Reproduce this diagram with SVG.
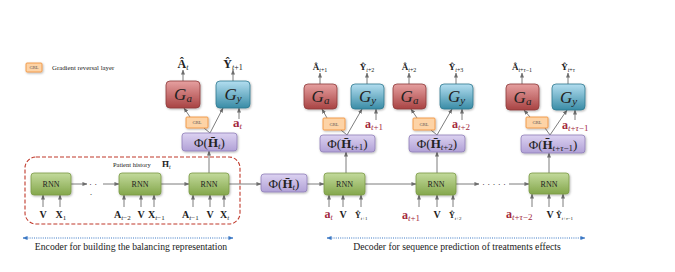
<svg xmlns="http://www.w3.org/2000/svg" width="675" height="272" viewBox="0 0 675 272">
<defs>
<linearGradient id="gG" x1="0" y1="0" x2="0" y2="1"><stop offset="0" stop-color="#c3da9c"/><stop offset="1" stop-color="#84a74c"/></linearGradient>
<linearGradient id="gR" x1="0" y1="0" x2="0" y2="1"><stop offset="0" stop-color="#e6a0a0"/><stop offset="1" stop-color="#a84343"/></linearGradient>
<linearGradient id="gB" x1="0" y1="0" x2="0" y2="1"><stop offset="0" stop-color="#b3def0"/><stop offset="1" stop-color="#3a8ca6"/></linearGradient>
<linearGradient id="gP" x1="0" y1="0" x2="0" y2="1"><stop offset="0" stop-color="#dcd2f1"/><stop offset="1" stop-color="#b1a1d6"/></linearGradient>
<filter id="sh" x="-20%" y="-20%" width="150%" height="160%"><feDropShadow dx="0.8" dy="1" stdDeviation="0.8" flood-color="#000" flood-opacity="0.3"/></filter>
<marker id="ah" viewBox="0 0 6 6" refX="5.5" refY="3" markerWidth="5" markerHeight="5" markerUnits="userSpaceOnUse" orient="auto"><path d="M0,0.6 L6,3 L0,5.4 z" fill="#6e6e6e"/></marker>
<marker id="bh" viewBox="0 0 6 6" refX="5.5" refY="3" markerWidth="5" markerHeight="5" markerUnits="userSpaceOnUse" orient="auto-start-reverse"><path d="M0,0.6 L6,3 L0,5.4 z" fill="#3b78c4"/></marker>
</defs>
<style>
text{font-family:"Liberation Serif","DejaVu Serif",serif;fill:#222}
.rnn{fill:url(#gG);stroke:#7b9b45;stroke-width:0.8;filter:url(#sh)}
.ga{fill:url(#gR);stroke:#8e3b3b;stroke-width:0.8;filter:url(#sh)}
.gy{fill:url(#gB);stroke:#2f7a90;stroke-width:0.8;filter:url(#sh)}
.phi{fill:url(#gP);stroke:#8f7fb8;stroke-width:0.8;filter:url(#sh)}
.grl{fill:#fdd3a6;stroke:#f09440;stroke-width:0.9;filter:url(#sh)}
.c{stroke:#6e6e6e;stroke-width:0.9;fill:none}
.ca{stroke:#6e6e6e;stroke-width:0.9;fill:none;marker-end:url(#ah)}
.blue{stroke:#3b78c4;stroke-width:1;stroke-dasharray:1 1.2;fill:none;marker-start:url(#bh);marker-end:url(#bh)}
.rl{font-size:8px}
.gt{font-size:17px;font-style:italic}
.gs{font-size:11px;font-style:italic}
.grt{font-size:4.6px;fill:#555}
.b{font-weight:bold}
.i{font-style:italic}
.red{fill:#a3293d}
.pt{font-size:13px}
.lab{font-size:10px}
</style>

<!-- legend -->
<g id="legend">
<rect class="grl" x="26" y="63" width="16" height="9" rx="1"/>
<text class="grt" x="34" y="69.3" text-anchor="middle">GRL</text>
<text x="52" y="70" font-size="6.8">Gradient reversal layer</text>
</g>

<!-- encoder box -->
<g id="encoder">
<rect x="25" y="157" width="215" height="67" rx="11" fill="none" stroke="#c0392b" stroke-width="1.1" stroke-dasharray="4 2"/>
<text x="113" y="167" font-size="6.5">Patient history</text>
<text x="162" y="167" font-size="9"><tspan class="b">H̄</tspan><tspan font-size="6" class="i" dy="1.5">t</tspan></text>
</g>

<!-- connectors -->
<g id="connectors">
<line class="ca" x1="71" y1="184" x2="87" y2="184"/>
<line class="ca" x1="103" y1="184" x2="119" y2="184"/>
<line class="ca" x1="161" y1="184" x2="189" y2="184"/>
<line class="ca" x1="229" y1="184" x2="261" y2="184"/>
<line class="ca" x1="307" y1="184" x2="324" y2="184"/>
<line class="ca" x1="365" y1="184" x2="416" y2="184"/>
<line class="ca" x1="456" y1="184" x2="479" y2="184"/>
<line class="ca" x1="509" y1="184" x2="529" y2="184"/>
<!-- inputs -->
<line class="ca" x1="43" y1="207" x2="43" y2="195"/>
<line class="ca" x1="60" y1="207" x2="60" y2="195"/>
<line class="ca" x1="124" y1="207" x2="124" y2="195"/>
<line class="ca" x1="141" y1="207" x2="141" y2="195"/>
<line class="ca" x1="154" y1="207" x2="154" y2="195"/>
<line class="ca" x1="193" y1="207" x2="193" y2="195"/>
<line class="ca" x1="210" y1="207" x2="210" y2="195"/>
<line class="ca" x1="224" y1="207" x2="224" y2="195"/>
<line class="ca" x1="329" y1="207" x2="329" y2="195"/>
<line class="ca" x1="343" y1="207" x2="343" y2="195"/>
<line class="ca" x1="361" y1="207" x2="361" y2="195"/>
<line class="ca" x1="419" y1="207" x2="419" y2="195"/>
<line class="ca" x1="437" y1="207" x2="437" y2="195"/>
<line class="ca" x1="453" y1="207" x2="453" y2="195"/>
<line class="ca" x1="532" y1="207" x2="532" y2="194"/>
<line class="ca" x1="549" y1="207" x2="549" y2="194"/>
<line class="ca" x1="563" y1="207" x2="563" y2="194"/>
<!-- RNN to Phi -->
<line class="ca" x1="209" y1="173" x2="209" y2="151"/>
<line class="ca" x1="346" y1="173" x2="346" y2="152"/>
<line class="ca" x1="437" y1="173" x2="437" y2="152"/>
<line class="ca" x1="549" y1="173" x2="549" y2="153"/>
<!-- group 0 heads -->
<line class="c" x1="210" y1="133" x2="204" y2="128"/>
<line class="ca" x1="190" y1="117" x2="184" y2="108"/>
<line class="ca" x1="210" y1="133" x2="223" y2="108"/>
<line class="ca" x1="239" y1="119" x2="239" y2="108"/>
<line class="ca" x1="183" y1="81" x2="183" y2="70"/>
<line class="ca" x1="233" y1="81" x2="233" y2="70"/>
<!-- group 1 -->
<line class="c" x1="347" y1="135" x2="341" y2="130"/>
<line class="ca" x1="327" y1="118" x2="322" y2="109"/>
<line class="ca" x1="347" y1="135" x2="362" y2="109"/>
<line class="ca" x1="376" y1="120" x2="376" y2="109"/>
<line class="ca" x1="320" y1="84" x2="320" y2="73"/>
<line class="ca" x1="367" y1="84" x2="367" y2="73"/>
<!-- group 2 -->
<line class="c" x1="437" y1="135" x2="431" y2="130"/>
<line class="ca" x1="417" y1="118" x2="411" y2="109"/>
<line class="ca" x1="437" y1="135" x2="452" y2="109"/>
<line class="ca" x1="462" y1="120" x2="462" y2="109"/>
<line class="ca" x1="409" y1="84" x2="409" y2="73"/>
<line class="ca" x1="456" y1="84" x2="456" y2="73"/>
<!-- group 3 -->
<line class="c" x1="550" y1="135" x2="545" y2="128"/>
<line class="ca" x1="530" y1="117" x2="524" y2="110"/>
<line class="ca" x1="550" y1="135" x2="567" y2="110"/>
<line class="ca" x1="575" y1="120" x2="575" y2="110"/>
<line class="ca" x1="522" y1="84" x2="522" y2="73"/>
<line class="ca" x1="568" y1="84" x2="568" y2="73"/>
<!-- span arrows -->
<line class="blue" x1="23" y1="238" x2="233" y2="238"/>
<line class="blue" x1="327" y1="238" x2="585" y2="238"/>
</g>

<!-- dots -->
<g id="dots" font-size="9" fill="#555">
<text x="89" y="187">· ·</text>
<text x="89.5" y="197">·</text>
<text x="482" y="187">· · · · ·</text>
</g>

<!-- encoder RNNs -->
<g id="rnn-e1"><rect class="rnn" x="31" y="173" width="40" height="22" rx="3"/><text class="rl" x="51" y="187" text-anchor="middle">RNN</text></g>
<g id="rnn-e2"><rect class="rnn" x="119" y="173" width="42" height="22" rx="3"/><text class="rl" x="140" y="187" text-anchor="middle">RNN</text></g>
<g id="rnn-e3"><rect class="rnn" x="189" y="173" width="40" height="22" rx="3"/><text class="rl" x="209" y="187" text-anchor="middle">RNN</text></g>
<!-- decoder RNNs -->
<g id="rnn-d1"><rect class="rnn" x="324" y="173" width="41" height="22" rx="3"/><text class="rl" x="344.5" y="187" text-anchor="middle">RNN</text></g>
<g id="rnn-d2"><rect class="rnn" x="416" y="173" width="40" height="22" rx="3"/><text class="rl" x="436" y="187" text-anchor="middle">RNN</text></g>
<g id="rnn-d3"><rect class="rnn" x="529" y="173" width="40" height="21" rx="3"/><text class="rl" x="549" y="187" text-anchor="middle">RNN</text></g>

<!-- middle phi -->
<g id="phi-mid"><rect class="phi" x="261" y="174" width="46" height="18" rx="3"/>
<text class="pt" x="284" y="188" text-anchor="middle">Φ(<tspan class="b">H̄</tspan><tspan font-size="9" class="i" dy="2">t</tspan><tspan dy="-2">)</tspan></text></g>

<!-- group 0 -->
<g id="ga-0"><rect class="ga" x="166" y="81" width="34" height="27" rx="4"/><text x="183" y="100" text-anchor="middle"><tspan class="gt">G</tspan><tspan class="gs" dy="2">a</tspan></text></g>
<g id="gy-0"><rect class="gy" x="216" y="81" width="34" height="27" rx="4"/><text x="233" y="100" text-anchor="middle"><tspan class="gt">G</tspan><tspan class="gs" dy="2">y</tspan></text></g>
<g id="grl-0"><rect class="grl" x="186" y="117" width="22" height="11" rx="1"/><text class="grt" x="197" y="124.3" text-anchor="middle">GRL</text></g>
<g id="phi-0"><rect class="phi" x="182" y="133" width="55" height="18" rx="3"/><text class="pt" x="209.5" y="147" text-anchor="middle">Φ(<tspan class="b">H̄</tspan><tspan font-size="9" class="i" dy="2">t</tspan><tspan dy="-2">)</tspan></text></g>
<g id="lab-0">
<text x="183" y="68" text-anchor="middle" font-size="12"><tspan class="b">Â</tspan><tspan font-size="8" class="i" dy="2">t</tspan></text>
<text x="233" y="68" text-anchor="middle" font-size="12"><tspan class="b">Ŷ</tspan><tspan font-size="8" dy="2"><tspan class="i">t</tspan>+1</tspan></text>
<text x="233" y="127" font-size="13" class="red"><tspan class="b red">a</tspan><tspan font-size="9" class="i red" dy="2">t</tspan></text>
</g>

<!-- group 1 -->
<g id="ga-1"><rect class="ga" x="304" y="84" width="33" height="25" rx="4"/><text x="320.5" y="102" text-anchor="middle"><tspan class="gt">G</tspan><tspan class="gs" dy="2">a</tspan></text></g>
<g id="gy-1"><rect class="gy" x="351" y="84" width="33" height="25" rx="4"/><text x="367.5" y="102" text-anchor="middle"><tspan class="gt">G</tspan><tspan class="gs" dy="2">y</tspan></text></g>
<g id="grl-1"><rect class="grl" x="323" y="118" width="22" height="12" rx="1"/><text class="grt" x="334" y="125.8" text-anchor="middle">GRL</text></g>
<g id="phi-1"><rect class="phi" x="320" y="135" width="55" height="17" rx="3"/><text class="pt" x="347.5" y="148" text-anchor="middle">Φ(<tspan class="b">H̄</tspan><tspan font-size="9" dy="2"><tspan class="i">t</tspan>+1</tspan><tspan dy="-2">)</tspan></text></g>
<g id="lab-1">
<text x="320" y="70" text-anchor="middle" font-size="9"><tspan class="b">Â</tspan><tspan font-size="6" dy="1.5"><tspan class="i">t</tspan>+1</tspan></text>
<text x="367" y="70" text-anchor="middle" font-size="9"><tspan class="b">Ŷ</tspan><tspan font-size="6" dy="1.5"><tspan class="i">t</tspan>+2</tspan></text>
<text x="365" y="128" font-size="12" class="red"><tspan class="b red">a</tspan><tspan font-size="9" class="red" dy="2"><tspan class="i red">t</tspan>+1</tspan></text>
</g>

<!-- group 2 -->
<g id="ga-2"><rect class="ga" x="393" y="84" width="33" height="25" rx="4"/><text x="409.5" y="102" text-anchor="middle"><tspan class="gt">G</tspan><tspan class="gs" dy="2">a</tspan></text></g>
<g id="gy-2"><rect class="gy" x="440" y="84" width="33" height="25" rx="4"/><text x="456.5" y="102" text-anchor="middle"><tspan class="gt">G</tspan><tspan class="gs" dy="2">y</tspan></text></g>
<g id="grl-2"><rect class="grl" x="413" y="118" width="22" height="12" rx="1"/><text class="grt" x="424" y="125.8" text-anchor="middle">GRL</text></g>
<g id="phi-2"><rect class="phi" x="409" y="135" width="56" height="17" rx="3"/><text class="pt" x="437" y="148" text-anchor="middle">Φ(<tspan class="b">H̄</tspan><tspan font-size="9" dy="2"><tspan class="i">t</tspan>+2</tspan><tspan dy="-2">)</tspan></text></g>
<g id="lab-2">
<text x="409" y="70" text-anchor="middle" font-size="9"><tspan class="b">Â</tspan><tspan font-size="6" dy="1.5"><tspan class="i">t</tspan>+2</tspan></text>
<text x="456" y="70" text-anchor="middle" font-size="9"><tspan class="b">Ŷ</tspan><tspan font-size="6" dy="1.5"><tspan class="i">t</tspan>+3</tspan></text>
<text x="452" y="128" font-size="12" class="red"><tspan class="b red">a</tspan><tspan font-size="9" class="red" dy="2"><tspan class="i red">t</tspan>+2</tspan></text>
</g>

<!-- group 3 -->
<g id="ga-3"><rect class="ga" x="506" y="84" width="33" height="26" rx="4"/><text x="522.5" y="102.5" text-anchor="middle"><tspan class="gt">G</tspan><tspan class="gs" dy="2">a</tspan></text></g>
<g id="gy-3"><rect class="gy" x="552" y="84" width="33" height="26" rx="4"/><text x="568.5" y="102.5" text-anchor="middle"><tspan class="gt">G</tspan><tspan class="gs" dy="2">y</tspan></text></g>
<g id="grl-3"><rect class="grl" x="526" y="117" width="22" height="11" rx="1"/><text class="grt" x="537" y="124.3" text-anchor="middle">GRL</text></g>
<g id="phi-3"><rect class="phi" x="521" y="135" width="64" height="18" rx="3"/><text class="pt" x="553" y="148.5" text-anchor="middle">Φ(<tspan class="b">H̄</tspan><tspan font-size="9" dy="2"><tspan class="i">t</tspan>+<tspan class="i">τ</tspan>−1</tspan><tspan dy="-2">)</tspan></text></g>
<g id="lab-3">
<text x="522" y="70" text-anchor="middle" font-size="9"><tspan class="b">Â</tspan><tspan font-size="6" dy="1.5"><tspan class="i">t</tspan>+<tspan class="i">τ</tspan>−1</tspan></text>
<text x="568" y="70" text-anchor="middle" font-size="9"><tspan class="b">Ŷ</tspan><tspan font-size="6" dy="1.5"><tspan class="i">t</tspan>+<tspan class="i">τ</tspan></tspan></text>
<text x="562" y="129" font-size="12" class="red"><tspan class="b red">a</tspan><tspan font-size="9" class="red" dy="2"><tspan class="i red">t</tspan>+<tspan class="i red">τ</tspan>−1</tspan></text>
</g>

<!-- input labels -->
<g id="inputs" font-size="10">
<text x="43" y="218" text-anchor="middle" class="b">V</text>
<text x="55.5" y="218"><tspan class="b">X</tspan><tspan font-size="7" dy="1.5">1</tspan></text>
<text x="114" y="218"><tspan class="b">A</tspan><tspan font-size="7" dy="1.5"><tspan class="i">t</tspan>−2</tspan></text>
<text x="141" y="218" text-anchor="middle" class="b">V</text>
<text x="148" y="218"><tspan class="b">X</tspan><tspan font-size="7" dy="1.5"><tspan class="i">t</tspan>−1</tspan></text>
<text x="182" y="218"><tspan class="b">A</tspan><tspan font-size="7" dy="1.5"><tspan class="i">t</tspan>−1</tspan></text>
<text x="210" y="218" text-anchor="middle" class="b">V</text>
<text x="220" y="218"><tspan class="b">X</tspan><tspan font-size="7" class="i" dy="1.5">t</tspan></text>

<text x="324.5" y="218" font-size="12" class="red"><tspan class="b red">a</tspan><tspan font-size="8" class="i red" dy="2">t</tspan></text>
<text x="343" y="218" text-anchor="middle" class="b">V</text>
<text x="355" y="218" font-size="8"><tspan class="b">Ŷ</tspan><tspan font-size="5" dy="1.5"><tspan class="i">t</tspan>+1</tspan></text>
<text x="402" y="219" font-size="12" class="red"><tspan class="b red">a</tspan><tspan font-size="9" class="red" dy="2"><tspan class="i red">t</tspan>+1</tspan></text>
<text x="437" y="218" text-anchor="middle" class="b">V</text>
<text x="449" y="218" font-size="8"><tspan class="b">Ŷ</tspan><tspan font-size="5" dy="1.5"><tspan class="i">t</tspan>+2</tspan></text>
<text x="506" y="218" font-size="12" class="red"><tspan class="b red">a</tspan><tspan font-size="9" class="red" dy="2"><tspan class="i red">t</tspan>+<tspan class="i red">τ</tspan>−2</tspan></text>
<text x="550" y="218" text-anchor="middle" class="b">V</text>
<text x="556" y="218" font-size="8"><tspan class="b">Ŷ</tspan><tspan font-size="5" dy="1.5"><tspan class="i">t</tspan>+<tspan class="i">τ</tspan>−1</tspan></text>
</g>

<!-- captions -->
<g id="captions" font-size="9.7">
<text x="131" y="250" text-anchor="middle">Encoder for building the balancing representation</text>
<text x="457" y="250" text-anchor="middle">Decoder for sequence prediction of treatments effects</text>
</g>
</svg>
